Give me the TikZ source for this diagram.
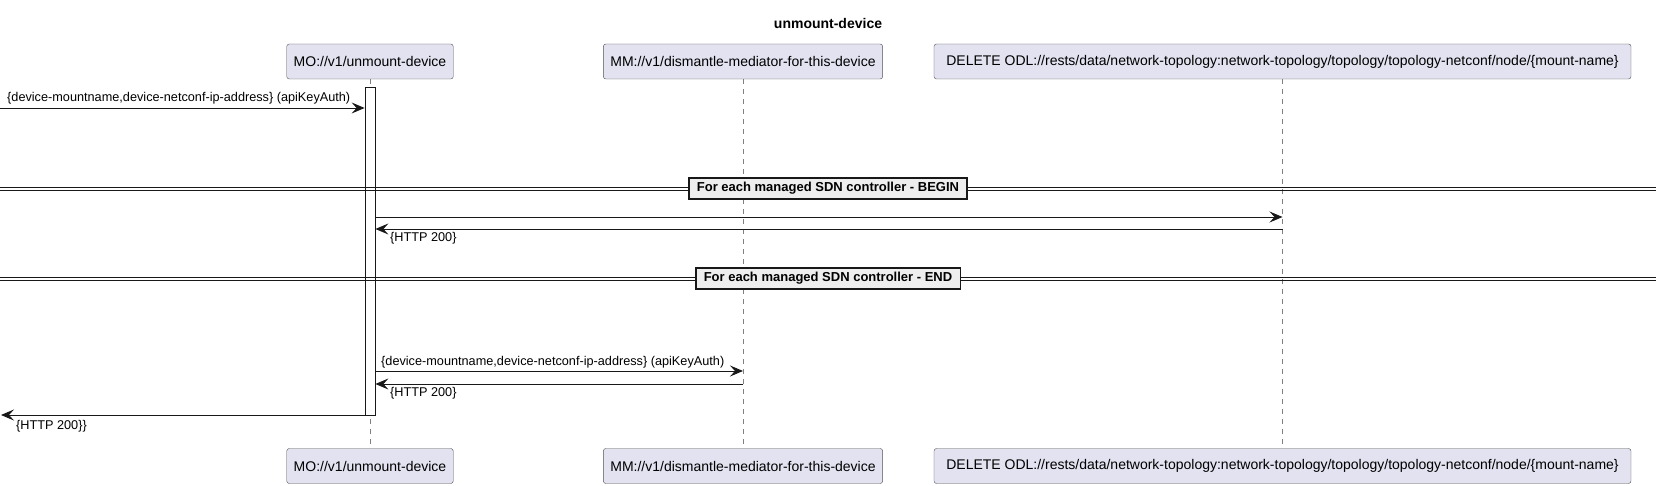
\documentclass[tikz,border=0pt]{standalone}
\usepackage{fontspec}
\setmainfont{Liberation Sans}
\usetikzlibrary{positioning,arrows.meta}
\definecolor{partfill}{RGB}{226,226,240}
\definecolor{linecol}{RGB}{24,24,24}
\definecolor{sepfill}{RGB}{238,238,238}

\begin{document}
\begin{tikzpicture}[x=1pt, y=-1pt,
  part/.style = {shape=rectangle, rounded corners=2.5pt, draw=linecol!75, fill=partfill,
	minimum height=35pt, inner xsep=7pt, font=\fontsize{14}{16}\selectfont},
  msg/.style = {draw=linecol, line width=0.9pt, -{Stealth[length=13pt,width=11pt,inset=5pt]}},
  lbl/.style = {inner sep=0pt, anchor=west, font=\fontsize{12.7}{15}\selectfont},
  life/.style = {draw=gray, dash pattern=on 5pt off 5pt, line width=0.6pt},
  dline/.style = {draw=linecol, line width=0.8pt},
  sepbox/.style = {shape=rectangle, draw=linecol, line width=1.5pt, fill=sepfill,
	inner xsep=8pt, minimum height=21pt, font=\bfseries\fontsize{13}{15}\selectfont}]

\useasboundingbox (0,0) rectangle (1662,486);

\node[font=\bfseries\fontsize{14}{16}\selectfont] (title) at (828,23) {unmount-device};

% participants
\node[part] (mo)   at (370,61.5)  {MO://v1/unmount-device};
\node[part] (mm)   at (743,61.5)  {MM://v1/dismantle-mediator-for-this-device};
\node[part, minimum width=697pt] (odl)  at (1282.5,61.5)
	{DELETE ODL://rests/data/network-topology:network-topology/topology/topology-netconf/node/\{mount-name\}};
\node[part] (mo2)  at (370,466)   {MO://v1/unmount-device};
\node[part] (mm2)  at (743,466)   {MM://v1/dismantle-mediator-for-this-device};
\node[part, minimum width=697pt] (odl2) at (1282.5,466)
	{DELETE ODL://rests/data/network-topology:network-topology/topology/topology-netconf/node/\{mount-name\}};

% lifelines
\draw[life] (mo)  -- (mo2);
\draw[life] (mm)  -- (mm2);
\draw[life] (odl) -- (odl2);

% activation
\node[draw=linecol, fill=white, line width=0.8pt, inner sep=0pt,
	minimum width=10pt, minimum height=328pt] (bar) at (370,251) {};

% request in
\coordinate (in1) at (0,108);
\draw[msg] (in1) -- (bar.west |- in1);
\node[lbl] (l1) at (7,98.6) {\{device-mountname,device-netconf-ip-address\} (apiKeyAuth)};

% separators
\draw[dline] (0,187) -- (1656,187);
\draw[dline] (0,190) -- (1656,190);
\node[sepbox] (begin) at (828,188.5) {For each managed SDN controller - BEGIN};

\coordinate (m2) at (0,217);
\coordinate (r2) at (0,229);
\draw[msg] (bar.east |- m2) -- (odl.center |- m2);
\draw[msg] (odl.center |- r2) -- (bar.east |- r2);
\node[lbl] (l2) at (390,238.6) {\{HTTP 200\}};

\draw[dline] (0,277) -- (1656,277);
\draw[dline] (0,280) -- (1656,280);
\node[sepbox] (end) at (828,278.5) {For each managed SDN controller - END};

\coordinate (m3) at (0,371);
\coordinate (r3) at (0,384);
\draw[msg] (bar.east |- m3) -- (mm.center |- m3);
\node[lbl] (l3) at (381,362.6) {\{device-mountname,device-netconf-ip-address\} (apiKeyAuth)};
\draw[msg] (mm.center |- r3) -- (bar.east |- r3);
\node[lbl] (l4) at (390,393.4) {\{HTTP 200\}};

% response out
\coordinate (out1) at (1,415);
\draw[msg] (bar.west |- out1) -- (out1);
\node[lbl] (l5) at (16,426.3) {\{HTTP 200\}\}};
\end{tikzpicture}
\end{document}
